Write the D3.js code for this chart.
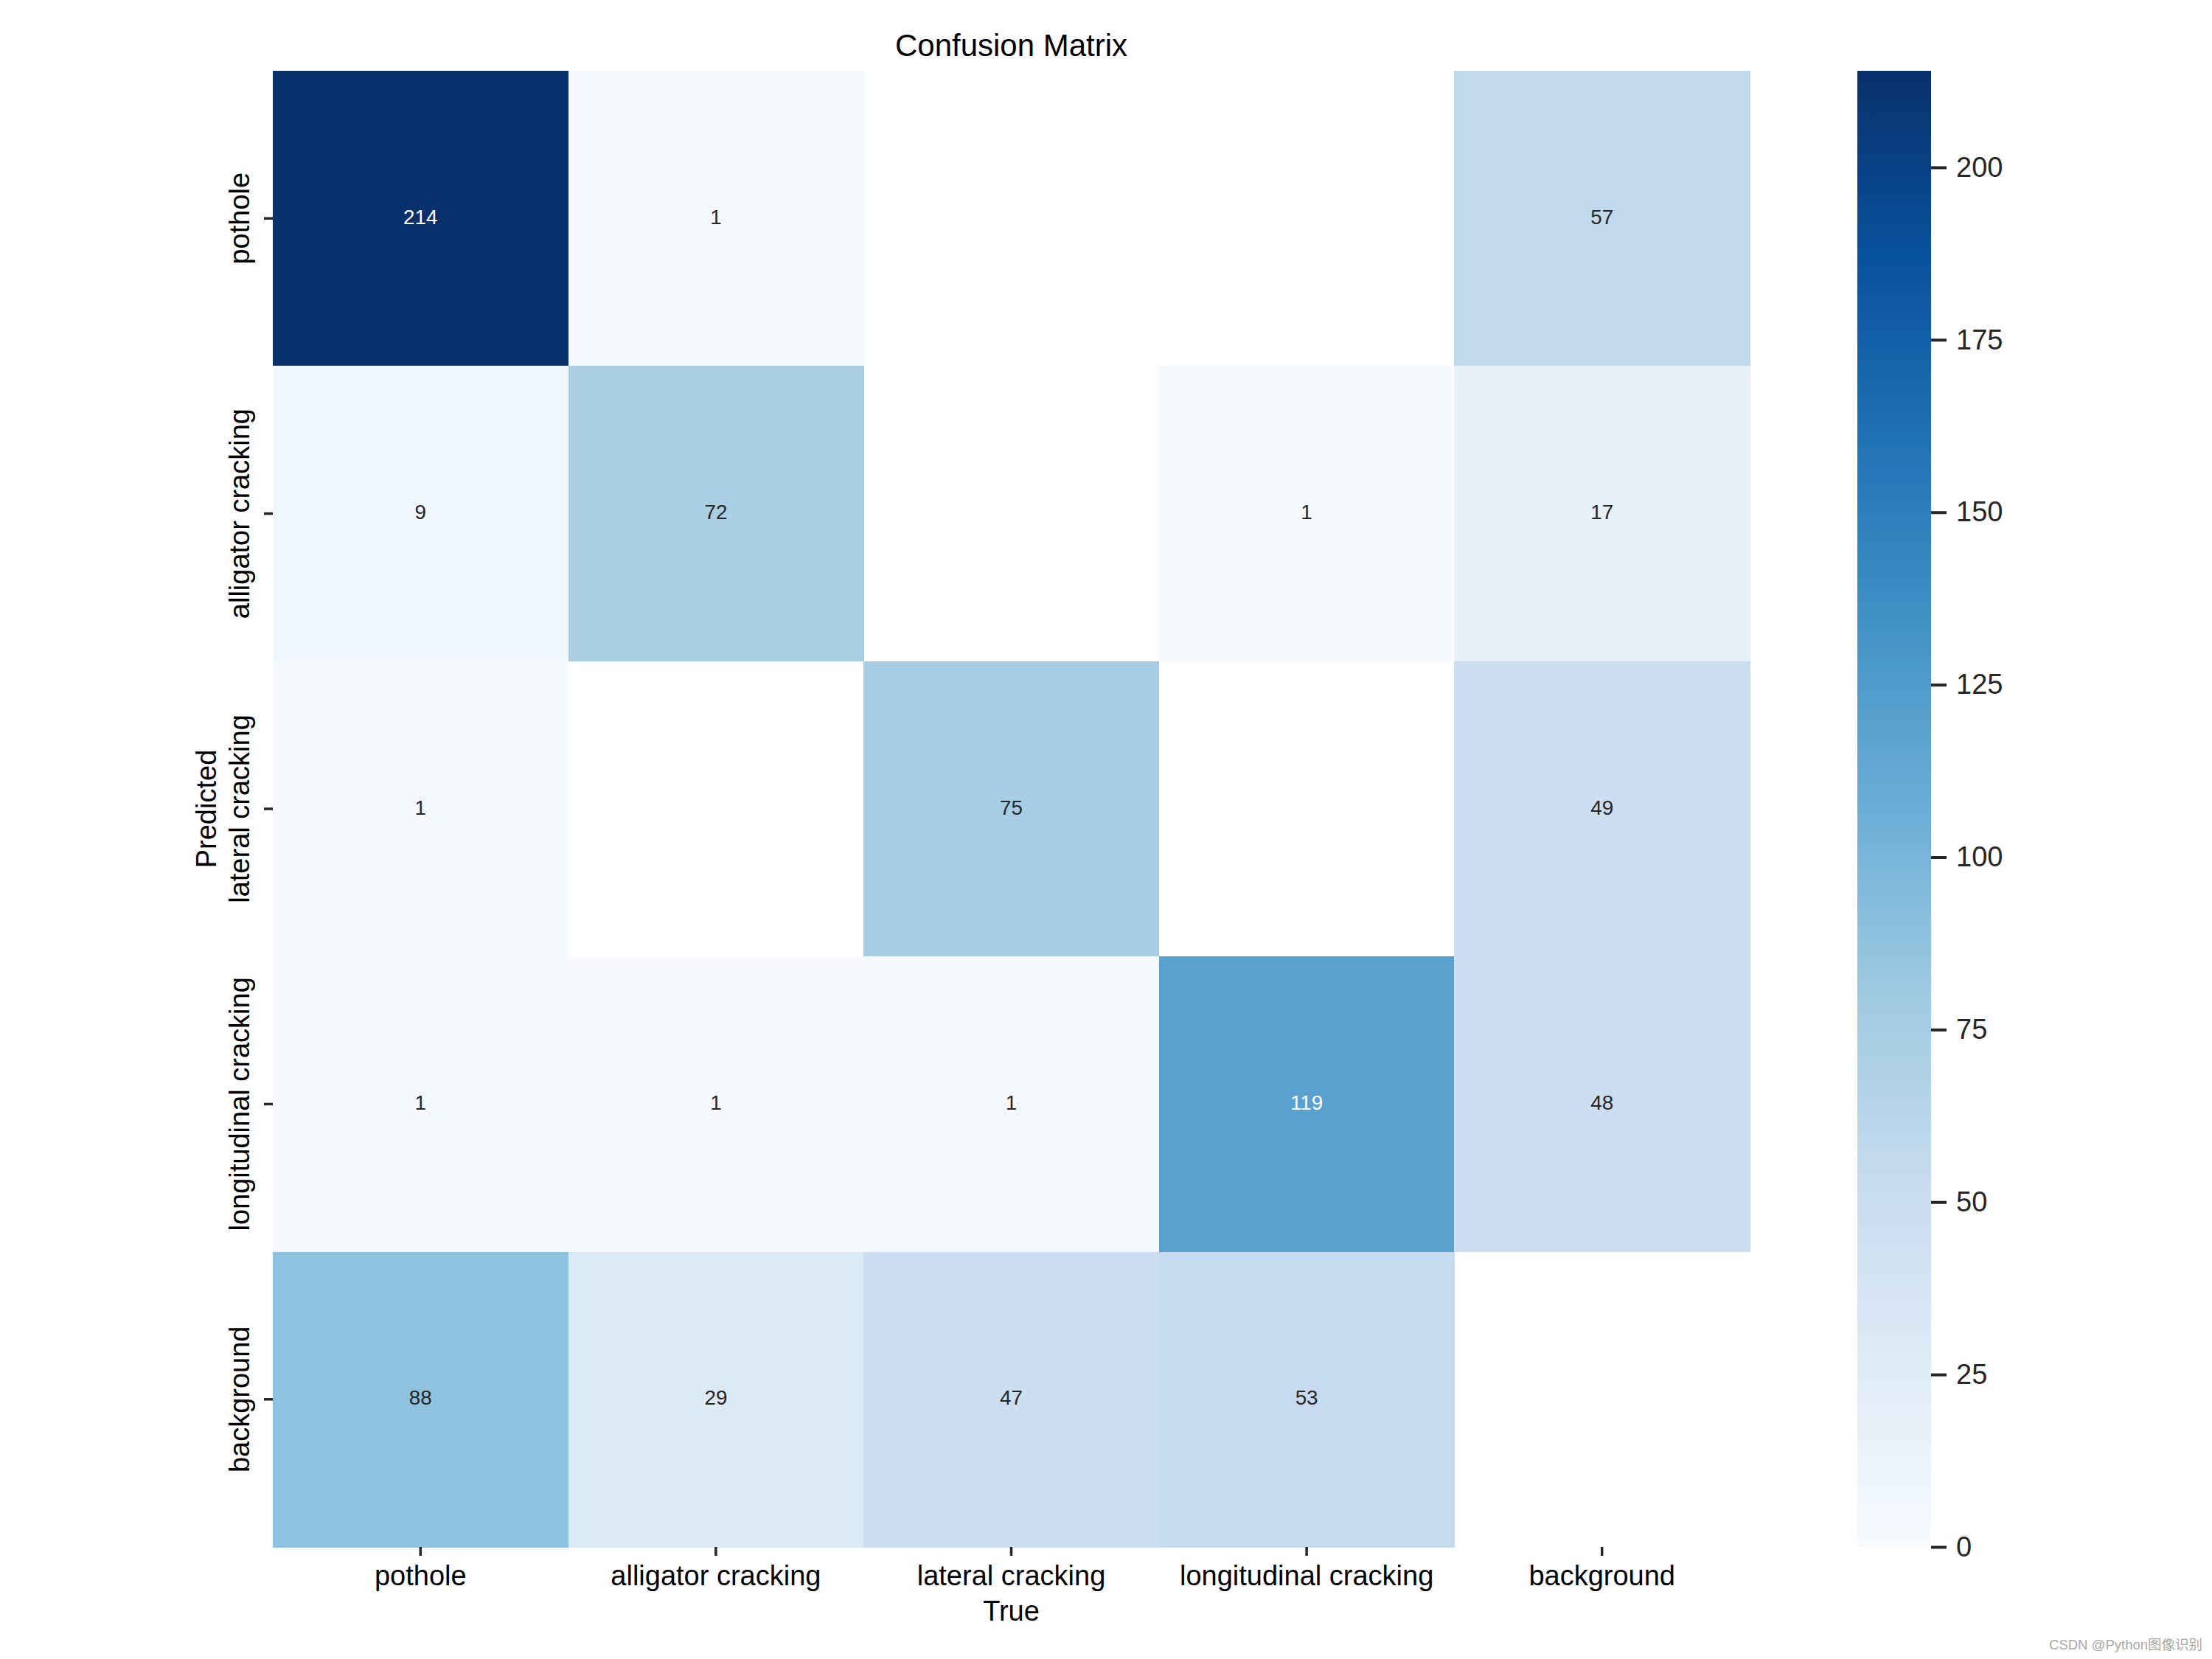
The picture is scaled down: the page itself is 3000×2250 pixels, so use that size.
<!DOCTYPE html>
<html>
<head>
<meta charset="utf-8">
<script src="https://cdn.jsdelivr.net/npm/d3@7"></script>
<style>
  html, body { margin: 0; padding: 0; background: #ffffff; }
  svg { display: block; font-family: "Liberation Sans", Arial, "Noto Sans CJK SC", sans-serif; }
</style>
</head>
<body>
<svg id="chart" width="3000" height="2250"></svg>
<script>
// ---- data ----
const trueCategories = ["pothole", "alligator cracking", "lateral cracking", "longitudinal cracking", "background"];
const predictedCategories = ["pothole", "alligator cracking", "lateral cracking", "longitudinal cracking", "background"];
// rows = predicted, columns = true
const rowPothole      = [214, 1, 0, 0, 57];
const rowAlligator    = [9, 72, 0, 1, 17];
const rowLateral      = [1, 0, 75, 0, 49];
const rowLongitudinal = [1, 1, 1, 119, 48];
const rowBackground   = [88, 29, 47, 53, 0];
const matrixRows = [rowPothole, rowAlligator, rowLateral, rowLongitudinal, rowBackground];
const colorbarTicks = [0, 25, 50, 75, 100, 125, 150, 175, 200];
const colorMax = 214;
const bluesPalette = ["#f7fbff","#deebf7","#c6dbef","#9ecae1","#6baed6","#4292c6","#2171b5","#08519c","#08306b"];

// ---- layout ----
const W = 3000, H = 2250;
const hm = { left: 370, right: 2373, top: 96, bottom: 2098 };
const cb = { left: 2519, right: 2619 };
const tickColor = "#262626";

const svg = d3.select("#chart");

// colour scale (matplotlib Blues: linear segments between brewer colours)
const color = d3.scaleLinear()
  .domain(bluesPalette.map((_, i) => i / (bluesPalette.length - 1) * colorMax))
  .range(bluesPalette)
  .interpolate(d3.interpolateRgb)
  .clamp(true);

const x = d3.scaleBand().domain(trueCategories).range([hm.left, hm.right]);
const y = d3.scaleBand().domain(predictedCategories).range([hm.top, hm.bottom]);

// luminance rule for annotation colour
function relLum(c) {
  const rgb = d3.rgb(c);
  const f = v => { v /= 255; return v <= 0.03928 ? v / 12.92 : Math.pow((v + 0.055) / 1.055, 2.4); };
  return 0.2126 * f(rgb.r) + 0.7152 * f(rgb.g) + 0.0722 * f(rgb.b);
}

const cells = [];
matrixRows.forEach((row, ri) => row.forEach((v, ci) => {
  cells.push({ pred: predictedCategories[ri], tru: trueCategories[ci], v });
}));
const shown = cells.filter(d => d.v > 0);

svg.append("g").selectAll("rect").data(shown).join("rect")
  .attr("x", d => x(d.tru))
  .attr("y", d => y(d.pred))
  .attr("width", x.bandwidth() + 0.5)
  .attr("height", y.bandwidth() + 0.5)
  .attr("fill", d => color(d.v))
  .attr("shape-rendering", "crispEdges");

svg.append("g").selectAll("text").data(shown).join("text")
  .attr("x", d => x(d.tru) + x.bandwidth() / 2)
  .attr("y", d => y(d.pred) + y.bandwidth() / 2 - 2)
  .attr("text-anchor", "middle")
  .attr("dominant-baseline", "central")
  .attr("font-size", 27.8)
  .attr("fill", d => relLum(color(d.v)) > 0.408 ? tickColor : "#ffffff")
  .text(d => d.v);

// ---- axes ----
const xAxisG = svg.append("g")
  .attr("transform", `translate(0,${hm.bottom})`)
  .call(d3.axisBottom(x).tickSize(12).tickPadding(13));
xAxisG.select(".domain").remove();
xAxisG.selectAll(".tick line").attr("stroke", tickColor).attr("stroke-width", 3.5);
xAxisG.selectAll(".tick text").attr("font-size", 38).attr("fill", "#000").attr("font-family", null);

const yAxisG = svg.append("g")
  .attr("transform", `translate(${hm.left},0)`)
  .call(d3.axisLeft(y).tickSize(12));
yAxisG.select(".domain").remove();
yAxisG.selectAll(".tick line").attr("stroke", tickColor).attr("stroke-width", 3.5);
yAxisG.selectAll(".tick text")
  .attr("font-size", 38).attr("fill", "#000").attr("font-family", null)
  .attr("x", null).attr("dy", null)
  .attr("text-anchor", "middle")
  .attr("transform", "translate(-32,0) rotate(-90)");

// axis titles
svg.append("text")
  .attr("x", (hm.left + hm.right) / 2).attr("y", 76)
  .attr("text-anchor", "middle").attr("font-size", 42).attr("fill", "#000")
  .text("Confusion Matrix");
svg.append("text")
  .attr("x", (hm.left + hm.right) / 2).attr("y", 2198)
  .attr("text-anchor", "middle").attr("font-size", 38).attr("fill", "#000")
  .text("True");
svg.append("text")
  .attr("transform", `translate(293,${(hm.top + hm.bottom) / 2}) rotate(-90)`)
  .attr("text-anchor", "middle").attr("font-size", 38).attr("fill", "#000")
  .text("Predicted");

// ---- colorbar ----
const cScale = d3.scaleLinear().domain([0, colorMax]).range([hm.bottom, hm.top]);
const defs = svg.append("defs");
const grad = defs.append("linearGradient").attr("id", "cbGrad")
  .attr("x1", 0).attr("y1", 1).attr("x2", 0).attr("y2", 0);
bluesPalette.forEach((c, i) => {
  grad.append("stop").attr("offset", i / (bluesPalette.length - 1)).attr("stop-color", c);
});
svg.append("rect")
  .attr("x", cb.left).attr("y", cScale(colorMax))
  .attr("width", cb.right - cb.left)
  .attr("height", cScale(0) - cScale(colorMax))
  .attr("fill", "url(#cbGrad)");
const cAxisG = svg.append("g")
  .attr("transform", `translate(${cb.right},0)`)
  .call(d3.axisRight(cScale).tickValues(colorbarTicks).tickSize(21).tickPadding(13));
cAxisG.select(".domain").remove();
cAxisG.selectAll(".tick line").attr("stroke", tickColor).attr("stroke-width", 4);
cAxisG.selectAll(".tick text").attr("font-size", 38).attr("fill", tickColor).attr("font-family", null);

// watermark
svg.append("text")
  .attr("x", 2987).attr("y", 2237)
  .attr("text-anchor", "end").attr("font-size", 18.5).attr("fill", "#a8a8a8")
  .text("CSDN @Python图像识别");
</script>
</body>
</html>
